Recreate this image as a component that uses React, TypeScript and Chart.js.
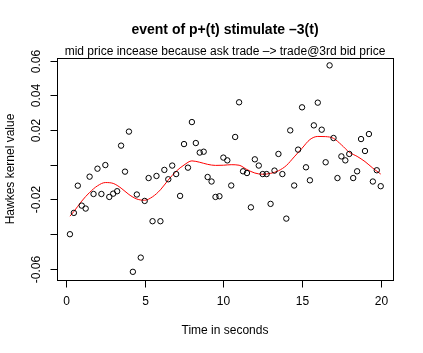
import React, { useEffect, useRef } from "react";
import { Chart, registerables } from "chart.js";

Chart.register(...registerables);

const titleText = "event of p+(t) stimulate \u20133(t)";
const subtitleText = "mid price incease because ask trade \u2013> trade@3rd bid price";
const xTitle = "Time in seconds";
const yTitle = "Hawkes kernel value";

const xTicks = [0, 5, 10, 15, 20];
const xTickLabels = ["0", "5", "10", "15", "20"];
const yTicks = [0.06, 0.04, 0.02, 0, -0.02, -0.04, -0.06];
const yTickLabels = ["0.06", "0.04", "0.02", "", "-0.02", "", "-0.06"];

const times = [
  0.25, 0.5, 0.75, 1, 1.25, 1.5, 1.75, 2, 2.25, 2.5, 2.75, 3,
  3.25, 3.5, 3.75, 4, 4.25, 4.5, 4.75, 5, 5.25, 5.5, 5.75, 6, 6.25, 6.5,
  6.75, 7, 7.25, 7.5, 7.75, 8, 8.25, 8.5, 8.75, 9, 9.25, 9.5, 9.75, 10,
  10.25, 10.5, 10.75, 11, 11.25, 11.5, 11.75, 12, 12.25, 12.5, 12.75, 13, 13.25, 13.5,
  13.75, 14, 14.25, 14.5, 14.75, 15, 15.25, 15.5, 15.75, 16, 16.25, 16.5, 16.75, 17, 17.25,
  17.5, 17.75, 18, 18.25, 18.5, 18.75, 19, 19.25, 19.5, 19.75, 20,
];

const kernelValues = [
  -0.0401, -0.0278, -0.0121, -0.0236, -0.0253, -0.0069, -0.0169, -0.0023, -0.0169, -0.0002, -0.0186, -0.0167,
  -0.0153, 0.011, -0.004, 0.0191, -0.0618, -0.0172, -0.0536, -0.0209, -0.0077, -0.0326, -0.0065, -0.0326, -0.003, -0.0084,
  -0.0005, -0.0054, -0.018, 0.0119, -0.0017, 0.0246, 0.0125, 0.007, 0.0075, -0.0071, -0.0097, -0.0186, -0.0182, 0.0041,
  0.0025, -0.012, 0.016, 0.036, -0.0038, -0.0048, -0.0246, 0.0031, -0.0005, -0.0054, -0.0054, -0.0226, -0.0034, 0.0062,
  -0.0054, -0.0311, 0.0198, -0.012, 0.0087, 0.0331, -0.0015, -0.009, 0.0227, 0.0358, 0.0202, 0.0014, 0.0573, 0.0154, -0.0077,
  0.0048, 0.0025, 0.0062, -0.0077, -0.0038, 0.0148, 0.0079, 0.0177, -0.0097, -0.0032, -0.0124,
];

const smoothTimes = [
  0.25, 0.5, 1, 1.5, 2, 2.5, 3, 3.5, 4, 4.5, 5, 5.5, 6, 6.5, 7, 7.5, 8, 8.5, 9, 9.5, 10,
  10.5, 11, 11.5, 12, 12.5, 13, 13.5, 14, 14.5, 15, 15.5, 16, 16.5, 17, 17.5, 18, 18.5, 19, 19.5, 20,
];
const smoothValues = [
  -0.0297, -0.027, -0.021, -0.016, -0.0122, -0.0103, -0.0108, -0.0135, -0.0172, -0.0198, -0.0205,
  -0.0185, -0.0145, -0.0088, -0.0038, -0.0002, 0.0022, 0.0014, 0.0002, -0.0004, -0.0003,
  0.0, -0.0003, -0.0028, -0.0048, -0.0055, -0.005, -0.0035, -0.0005, 0.0045, 0.0095,
  0.0145, 0.0163, 0.0162, 0.0152, 0.0115, 0.0072, 0.0048, 0.0018, -0.002, -0.0054,
];

const FONT = "'Liberation Sans', Arial, Helvetica, sans-serif";

const rStylePlugin = {
  id: "rStyle",
  afterDraw(chart: any) {
    const ctx = chart.ctx;
    const { left, right, top, bottom } = chart.chartArea;
    const xs = chart.scales.x;
    const ys = chart.scales.y;
    ctx.save();
    ctx.strokeStyle = "#000";
    ctx.lineWidth = 1;
    ctx.strokeRect(Math.round(left) + 0.5, Math.round(top) + 0.5, Math.round(right - left), Math.round(bottom - top));

    ctx.fillStyle = "#000";
    ctx.font = `12px ${FONT}`;
    ctx.textAlign = "center";
    ctx.textBaseline = "middle";
    xTicks.forEach((t, i) => {
      const px = Math.round(xs.getPixelForValue(t)) + 0.5;
      ctx.beginPath();
      ctx.moveTo(px, Math.round(bottom) + 0.5);
      ctx.lineTo(px, Math.round(bottom) + 7.5);
      ctx.stroke();
      ctx.fillText(xTickLabels[i], px, 302);
    });
    yTicks.forEach((t, i) => {
      const py = Math.round(ys.getPixelForValue(t)) + 0.5;
      ctx.beginPath();
      ctx.moveTo(Math.round(left) + 0.5, py);
      ctx.lineTo(Math.round(left) - 6.5, py);
      ctx.stroke();
      if (yTickLabels[i]) {
        ctx.save();
        ctx.translate(37, py);
        ctx.rotate(-Math.PI / 2);
        ctx.fillText(yTickLabels[i], 0, 0);
        ctx.restore();
      }
    });
    const cx = (left + right) / 2;
    const cy = (top + bottom) / 2;
    ctx.fillText(xTitle, cx, 331);
    ctx.save();
    ctx.translate(11, cy);
    ctx.rotate(-Math.PI / 2);
    ctx.fillText(yTitle, 0, 0);
    ctx.restore();
    ctx.font = `bold 14px ${FONT}`;
    ctx.fillText(titleText, cx, 30);
    ctx.font = `12px ${FONT}`;
    ctx.fillText(subtitleText, cx, 51.5);
    ctx.restore();
  },
};

export default function App() {
  const canvasRef = useRef<HTMLCanvasElement | null>(null);

  useEffect(() => {
    document.body.style.margin = "0";
    const canvas = canvasRef.current;
    if (!canvas) return;
    const chart = new Chart(canvas, {
      type: "scatter",
      data: {
        datasets: [
          {
            label: "kernel",
            data: times.map((t, i) => ({ x: t, y: kernelValues[i] })),
            showLine: false,
            pointRadius: 2.7,
            pointBorderWidth: 1,
            pointBorderColor: "#000",
            pointBackgroundColor: "rgba(0,0,0,0)",
            pointStyle: "circle",
          },
          {
            label: "smooth",
            data: smoothTimes.map((t, i) => ({ x: t, y: smoothValues[i] })),
            showLine: true,
            borderColor: "#ff0000",
            borderWidth: 1,
            pointRadius: 0,
            cubicInterpolationMode: "monotone",
            fill: false,
          },
        ],
      },
      options: {
        responsive: false,
        animation: false,
        devicePixelRatio: 1,
        layout: { padding: { left: 57, top: 58, right: 30, bottom: 73 } },
        plugins: { legend: { display: false }, tooltip: { enabled: false }, title: { display: false } },
        scales: {
          x: { type: "linear", display: false, min: -0.572, max: 20.78 },
          y: { type: "linear", display: false, min: -0.06652, max: 0.06156 },
        },
      },
      plugins: [rStylePlugin],
    });
    return () => chart.destroy();
  }, []);

  return (
    <div style={{ position: "fixed", left: 0, top: 0, width: 423, height: 353, background: "#fff" }}>
      <canvas ref={canvasRef} width={423} height={353} style={{ width: 423, height: 353 }} />
    </div>
  );
}
